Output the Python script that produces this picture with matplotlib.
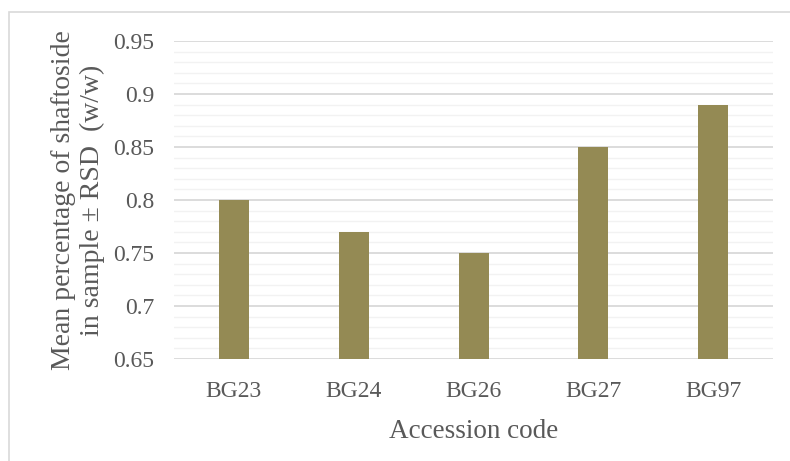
import matplotlib.pyplot as plt
from matplotlib.patches import Rectangle
from matplotlib.ticker import MultipleLocator

# shaftoside content per accession
accessions = ['BG23', 'BG24', 'BG26', 'BG27', 'BG97']
mean_pct = [0.80, 0.77, 0.75, 0.85, 0.89]
y_ticks = [0.65, 0.70, 0.75, 0.80, 0.85, 0.90, 0.95]
y_tick_labels = ['0.65', '0.7', '0.75', '0.8', '0.85', '0.9', '0.95']

plt.rcParams['font.family'] = ['Liberation Serif', 'DejaVu Serif']
text_grey = '#595959'

fig = plt.figure(figsize=(7.9, 4.61), dpi=100)
ax = fig.add_axes([0.2203, 0.2213, 0.7582, 0.6898])

# chart frame (only left and top edges fall inside the canvas)
frame_left = 9 / 790
frame_top = 1 - 12 / 461
fig.patches.append(Rectangle((frame_left, -0.2), 1.5, frame_top + 0.2,
                             transform=fig.transFigure, fill=False,
                             edgecolor='#d9d9d9', linewidth=1.2))

x = range(len(accessions))
ax.bar(x, mean_pct, width=0.25, bottom=0, color='#948a54', zorder=3)

ax.set_xlim(-0.5, len(accessions) - 0.5)
ax.set_ylim(0.65, 0.95)
ax.set_yticks(y_ticks)
ax.set_yticklabels(y_tick_labels)
ax.yaxis.set_minor_locator(MultipleLocator(0.01))
ax.set_xticks(list(x))
ax.set_xticklabels(accessions)

ax.grid(axis='y', which='major', color='#d9d9d9', linewidth=1.3, zorder=0)
ax.grid(axis='y', which='minor', color='#f2f2f2', linewidth=1.0, zorder=0)
for side in ax.spines.values():
    side.set_visible(False)
ax.tick_params(which='both', length=0)
ax.tick_params(axis='y', labelsize=17, labelcolor=text_grey, pad=14)
ax.tick_params(axis='x', labelsize=17, labelcolor=text_grey, pad=16)

ax.set_xlabel('Accession code', fontsize=19.5, color=text_grey, labelpad=12)
ax.set_ylabel('Mean percentage of shaftoside\nin sample ± RSD  (w/w)',
              fontsize=20, color=text_grey, labelpad=6, linespacing=1.2)

fig.savefig('out.png', dpi=100)
